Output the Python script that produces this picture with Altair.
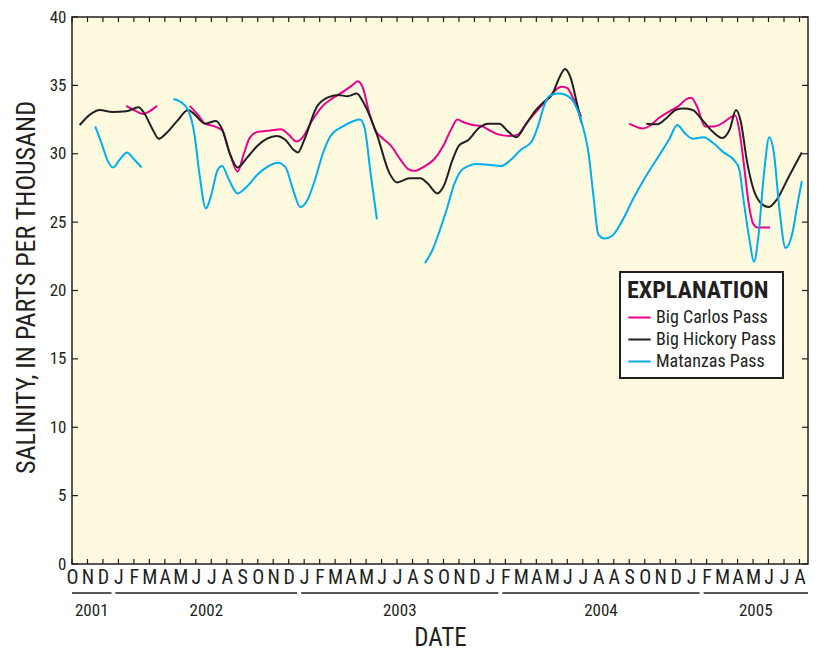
import altair as alt
import pandas as pd

# ---------------- data ----------------
month_labels = list("OND" "JFMAMJJASOND" "JFMAMJJASONDJ" "FMAMJJAASONDJ" "FMAMJJA")

years = ["2001", "2002", "2003", "2004", "2005"]
year_first = [0, 3, 15, 28, 41]
year_last = [2, 14, 27, 40, 47]

y_tick_values = [0, 5, 10, 15, 20, 25, 30, 35, 40]

series_names = ["Big Carlos Pass", "Big Hickory Pass", "Matanzas Pass"]
series_colors = ["#EC008C", "#231F20", "#00AEEF"]

carlos_1_x = [3.5, 4.0, 4.6, 5.0, 5.5]
carlos_1_y = [33.5, 33.2, 32.9, 33.1, 33.5]
carlos_2_x = [7.6, 8.1, 8.6, 9.2, 9.7, 10.2, 10.7, 11.1, 11.5, 12.0, 12.8, 13.5, 14.0, 14.5, 14.9,
              15.5, 16.2, 16.9, 17.6, 18.1, 18.45, 18.8, 19.2, 19.6, 20.1, 20.6, 21.2, 21.7, 22.1,
              22.8, 23.4, 24.0, 24.5, 24.9, 25.3, 25.9, 26.5, 27.0, 27.6, 28.3, 28.8, 29.4, 30.0,
              30.8, 31.6, 32.0, 32.4, 32.9]
carlos_2_y = [33.5, 32.9, 32.2, 32.0, 31.7, 30.0, 28.7, 30.0, 31.2, 31.6, 31.7, 31.8, 31.4, 30.9, 31.2,
              32.4, 33.5, 34.1, 34.6, 35.0, 35.3, 34.8, 33.0, 31.7, 31.1, 30.6, 29.6, 28.9, 28.75,
              29.1, 29.6, 30.6, 31.8, 32.5, 32.3, 32.1, 32.0, 31.7, 31.4, 31.3, 31.4, 32.3, 33.1,
              34.1, 34.9, 34.8, 34.0, 32.7]
carlos_3_x = [36.0, 36.5, 36.9, 37.4, 37.9, 38.6, 39.2, 39.7, 40.0, 40.4, 40.9, 41.5, 42.1, 42.6,
              42.85, 43.1, 43.4, 43.7, 44.0, 44.3, 45.1]
carlos_3_y = [32.2, 31.95, 31.85, 32.1, 32.6, 33.1, 33.5, 34.0, 34.1, 33.4, 32.0, 32.0, 32.3, 32.7,
              32.8, 31.8, 29.3, 26.5, 24.9, 24.6, 24.6]

hickory_1_x = [0.5, 1.2, 1.8, 2.6, 3.5, 4.3, 4.65, 5.2, 5.6, 6.0, 6.8, 7.5, 7.9, 8.6, 9.3, 9.7,
               10.2, 10.7, 11.3, 12.0, 12.6, 13.2, 13.8, 14.3, 14.6, 15.0, 15.8, 16.5, 17.2, 17.8,
               18.4, 18.8, 19.7, 20.5, 21.0, 21.8, 22.5, 23.0, 23.6, 24.0, 24.6, 25.0, 25.6, 26.3,
               26.9, 27.6, 28.2, 28.7, 29.3, 29.9, 30.5, 31.0, 31.5, 31.85, 32.2, 32.6, 32.9]
hickory_1_y = [32.1, 32.9, 33.2, 33.05, 33.1, 33.4, 33.0, 31.8, 31.1, 31.4, 32.4, 33.2, 32.9, 32.2,
               32.4, 31.8, 30.0, 29.0, 29.7, 30.6, 31.1, 31.3, 31.0, 30.3, 30.1, 31.0, 33.4, 34.1,
               34.3, 34.2, 34.4, 33.8, 31.4, 28.6, 27.9, 28.2, 28.2, 27.8, 27.1, 27.6, 29.6, 30.6,
               31.0, 31.9, 32.2, 32.2, 31.6, 31.2, 32.1, 33.1, 33.8, 34.3, 35.6, 36.2, 35.6, 33.8,
               32.3]
hickory_2_x = [37.1, 37.8, 38.4, 39.0, 39.5, 40.1, 40.7, 41.4, 42.0, 42.5, 42.9, 43.2, 43.6, 44.0,
               44.5, 45.0, 45.5, 46.3, 47.15]
hickory_2_y = [32.2, 32.15, 32.6, 33.2, 33.3, 33.2, 32.5, 31.6, 31.15, 31.8, 33.2, 32.4, 29.5, 27.5,
               26.4, 26.1, 26.6, 28.3, 30.1]

matanzas_1_x = [1.5, 1.9, 2.3, 2.65, 3.1, 3.55, 4.0, 4.5]
matanzas_1_y = [32.0, 30.8, 29.5, 29.0, 29.6, 30.1, 29.6, 29.0]
matanzas_2_x = [6.55, 7.0, 7.5, 7.9, 8.2, 8.65, 9.0, 9.4, 9.7, 10.1, 10.7, 11.3, 12.0, 12.7, 13.3,
                13.8, 14.3, 14.75, 15.2, 15.7, 16.2, 16.7, 17.5, 18.2, 18.6, 18.9, 19.3, 19.7]
matanzas_2_y = [34.0, 33.8, 33.2, 31.5, 28.8, 26.0, 27.0, 28.8, 29.1, 28.2, 27.1, 27.6, 28.5, 29.1,
                29.35, 29.0, 27.3, 26.1, 26.6, 28.1, 30.0, 31.3, 32.0, 32.4, 32.5, 31.9, 28.5, 25.2]
matanzas_3_x = [22.8, 23.3, 23.7, 24.2, 24.7, 25.1, 25.6, 26.1, 26.9, 27.7, 28.3, 29.0, 29.7, 30.1,
                30.5, 30.8, 31.4, 31.9, 32.5, 33.0, 33.35, 33.7, 34.0, 34.4, 34.9, 35.5, 36.3, 37.0,
                38.0, 38.6, 39.1, 39.6, 40.1, 40.8, 41.4, 42.1, 42.8, 43.1, 43.4, 43.8, 44.05, 44.35,
                44.7, 45.05, 45.35, 45.7, 46.1, 46.5, 46.9, 47.15]
matanzas_3_y = [22.0, 23.0, 24.2, 25.9, 27.8, 28.7, 29.1, 29.25, 29.2, 29.1, 29.5, 30.3, 30.9, 32.0,
                33.5, 34.2, 34.4, 34.3, 33.6, 32.0, 30.2, 26.8, 24.1, 23.8, 24.0, 25.0, 26.8, 28.2,
                30.0, 31.1, 32.1, 31.5, 31.1, 31.2, 30.8, 30.1, 29.5, 28.9, 26.5, 23.5, 22.1, 24.0,
                28.5, 31.2, 30.0, 26.0, 23.1, 24.0, 26.5, 28.0]

pieces = [
    ("Big Carlos Pass", "c1", carlos_1_x, carlos_1_y),
    ("Big Carlos Pass", "c2", carlos_2_x, carlos_2_y),
    ("Big Carlos Pass", "c3", carlos_3_x, carlos_3_y),
    ("Big Hickory Pass", "h1", hickory_1_x, hickory_1_y),
    ("Big Hickory Pass", "h2", hickory_2_x, hickory_2_y),
    ("Matanzas Pass", "m1", matanzas_1_x, matanzas_1_y),
    ("Matanzas Pass", "m2", matanzas_2_x, matanzas_2_y),
    ("Matanzas Pass", "m3", matanzas_3_x, matanzas_3_y),
]
rows = []
for name, seg, xs, ys in pieces:
    for i, (xv, yv) in enumerate(zip(xs, ys)):
        rows.append({"x": xv, "y": yv, "series": name, "seg": seg, "order": i})
df = pd.DataFrame(rows)

year_df = pd.DataFrame({"label": years, "first": year_first, "last": year_last})
year_df["start"] = (year_df["first"] - 0.2).clip(lower=0)
year_df["end"] = (year_df["last"] + 0.55).clip(upper=47.55)
year_df["center"] = (year_df["start"] + year_df["end"]) / 2

month_df = pd.DataFrame({"m": list(range(len(month_labels)))})
ytick_df = pd.DataFrame({"v": y_tick_values})

# ---------------- style ----------------
W, H = 736, 547
TOP = 9
INK = "#231F20"
FONT = "Roboto Condensed, Liberation Sans, sans-serif"

x_scale = alt.Scale(domain=[0, 47.55], nice=False, zero=False)
y_scale = alt.Scale(domain=[0, 40], nice=False, zero=True)

label_expr = "[" + ",".join("'%s'" % m for m in month_labels) + "][datum.value]"

lines = alt.Chart(df).mark_line(interpolate="monotone", strokeWidth=2).encode(
    x=alt.X("x:Q", scale=x_scale, axis=alt.Axis(
        values=list(range(len(month_labels))), labelExpr=label_expr, ticks=False, domain=False,
        grid=False, labelFlush=False, labelOverlap=False, labelPadding=3,
        labelFont=FONT, labelFontSize=20, labelColor=INK,
        title="DATE", titleFont=FONT, titleFontSize=25,
        titleFontWeight="normal", titleColor=INK, titleY=81, titleBaseline="alphabetic")),
    y=alt.Y("y:Q", scale=y_scale, axis=alt.Axis(
        values=y_tick_values, ticks=False, domain=False, grid=False, labelPadding=6,
        labelFont=FONT, labelFontSize=17, labelColor=INK,
        title="SALINITY, IN PARTS PER THOUSAND", titleFont=FONT,
        titleFontSize=26, titleFontWeight="normal", titleColor=INK,
        titleX=-38, titleY=270, titleBaseline="alphabetic")),
    color=alt.Color("series:N", scale=alt.Scale(domain=series_names, range=series_colors),
                    legend=alt.Legend(
                        title="EXPLANATION", orient="none", legendX=548, legendY=255,
                        strokeColor=INK, fillColor="white", padding=7,
                        titleFont=FONT, titleFontWeight="bold", titleFontSize=24, titleColor=INK,
                        titlePadding=2, labelFont=FONT, labelFontSize=18, labelColor=INK,
                        symbolType="stroke", symbolSize=500, symbolStrokeWidth=2,
                        rowPadding=0, labelOffset=4)),
    detail="seg:N",
    order="order:Q",
)

left_ticks = alt.Chart(ytick_df).mark_rule(color=INK, strokeWidth=1.2).encode(
    y=alt.Y("v:Q", scale=y_scale, axis=None), x=alt.value(0), x2=alt.value(6))
right_ticks = alt.Chart(ytick_df).mark_rule(color=INK, strokeWidth=1.2).encode(
    y=alt.Y("v:Q", scale=y_scale, axis=None), x=alt.value(W - 6), x2=alt.value(W))
bottom_ticks = alt.Chart(month_df).mark_rule(color=INK, strokeWidth=1.2).encode(
    x=alt.X("m:Q", scale=x_scale, axis=None), y=alt.value(H - 5), y2=alt.value(H))
top_ticks = alt.Chart(month_df).mark_rule(color=INK, strokeWidth=1.2).encode(
    x=alt.X("m:Q", scale=x_scale, axis=None), y=alt.value(0), y2=alt.value(5))

year_rules = alt.Chart(year_df).mark_rule(color=INK, strokeWidth=1.5).encode(
    x=alt.X("start:Q", scale=x_scale, axis=None), x2="end:Q", y=alt.value(H + 29))
year_text = alt.Chart(year_df).mark_text(font=FONT, fontSize=17, color=INK,
                                         baseline="alphabetic").encode(
    x=alt.X("center:Q", scale=x_scale, axis=None), y=alt.value(H + 52), text="label:N")

chart = alt.layer(
    lines, left_ticks, right_ticks, bottom_ticks, top_ticks, year_rules, year_text
).resolve_axis(
    x="independent", y="independent"
).properties(
    width=W, height=H,
    autosize=alt.AutoSizeParams(type="none"),
    padding={"left": 64, "top": TOP, "right": 1, "bottom": 92},
).configure_view(
    stroke=INK, strokeWidth=1.5, fill="#FEFADF"
).configure_legend(strokeWidth=2)

chart.save("out.html", embed_options={"renderer": "svg", "actions": False})
